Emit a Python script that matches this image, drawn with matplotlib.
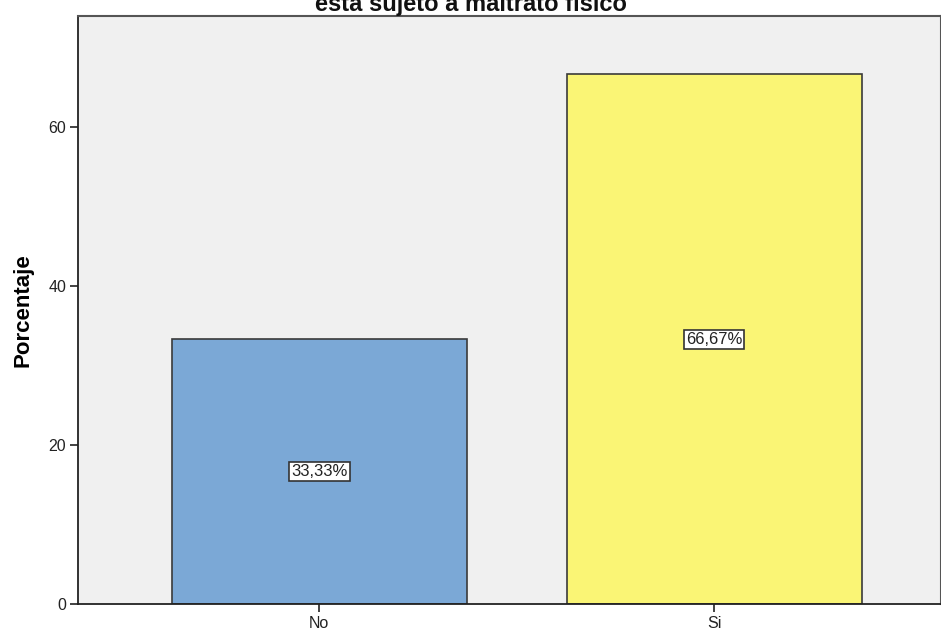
import matplotlib
matplotlib.use('Agg')
import matplotlib.pyplot as plt

# Datos del gráfico
categorias = ['No', 'Si']
porcentajes = [33.33, 66.67]
etiquetas = ['33,33%', '66,67%']
colores = ['#7BA8D6', '#FAF575']
titulo = 'esta sujeto a maltrato físico'

plt.rcParams['font.family'] = ['Liberation Sans', 'DejaVu Sans']

fig = plt.figure(figsize=(9.41, 6.33), dpi=100, facecolor='white')
ax = fig.add_axes([78 / 941, 29 / 633, 1 - 78 / 941, 588 / 633])
ax.set_facecolor('#F0F0F0')

pos = list(range(len(categorias)))
bars = ax.bar(pos, porcentajes, width=0.747, color=colores,
              edgecolor='#3A3A3A', linewidth=1.2, zorder=2)

# Etiquetas en el centro de cada barra
for bar, txt in zip(bars, etiquetas):
    ax.text(bar.get_x() + bar.get_width() / 2, bar.get_height() / 2, txt,
            ha='center', va='center', fontsize=12, color='#222222', zorder=3,
            bbox=dict(boxstyle='square,pad=0.12', facecolor='white',
                      edgecolor='#333333', linewidth=1.2))

ax.set_xlim(-0.611, 1.574)
ax.set_ylim(0, 74)
ax.set_xticks(pos)
ax.set_xticklabels(categorias)
ax.set_yticks([0, 20, 40, 60])

ax.tick_params(axis='both', direction='out', length=6, width=1.2,
               labelsize=11.5, colors='#222222', pad=2.5)
ax.set_ylabel('Porcentaje', fontsize=16, fontweight='bold')
ax.yaxis.set_label_coords(-0.052, 0.5)

for s in ['left', 'bottom']:
    ax.spines[s].set_color('#222222')
    ax.spines[s].set_linewidth(1.3)
for s in ['top', 'right']:
    ax.spines[s].set_color('#555555')
    ax.spines[s].set_linewidth(1.5)

fig.text(0.5, (633 - 11) / 633, titulo, ha='center', va='baseline',
         fontsize=17, fontweight='bold', color='#111111')

fig.savefig('out.png', dpi=100, facecolor='white')
